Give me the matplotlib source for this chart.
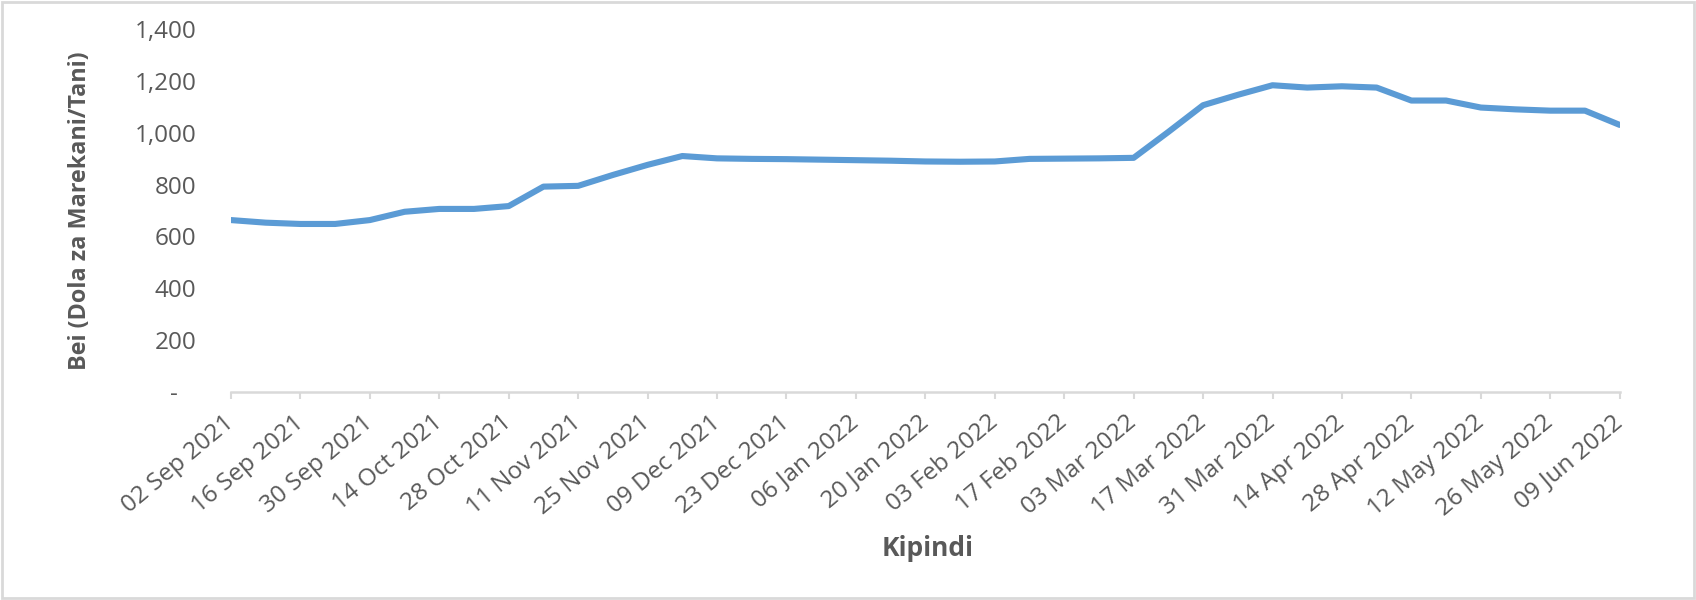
import pandas as pd
import matplotlib.pyplot as plt
import matplotlib.patches as patches

plt.rcParams['font.family'] = ['Open Sans', 'DejaVu Sans']

# weekly price, Dola za Marekani / Tani
weeks = pd.date_range('2021-09-02', periods=41, freq='7D')
prices = [663, 653, 648, 648, 663, 695, 706, 706, 717, 792,
          795, 837, 876, 910, 901, 899, 898, 896, 894, 892,
          889, 888, 889, 899, 900, 901, 903, 1003, 1106, 1146,
          1183, 1174, 1179, 1174, 1124, 1124, 1097, 1090, 1085, 1085,
          1030]
yticks = [0, 200, 400, 600, 800, 1000, 1200, 1400]
ytick_labels = ['-   ', '200', '400', '600', '800', '1,000', '1,200', '1,400']

grey = '#595959'
fig = plt.figure(figsize=(16.96, 6), dpi=100)
ax = fig.add_axes([0.1362, 0.3467, 0.8188, 0.605])

ax.plot(weeks, prices, color='#5B9BD5', lw=4.4, solid_capstyle='round', solid_joinstyle='round')

ax.set_xlim(weeks[0], weeks[-1])
ax.set_ylim(0, 1400)
ax.set_yticks(yticks, ytick_labels)
xt = weeks[::2]
ax.set_xticks(xt, [d.strftime('%d %b %Y') for d in xt], rotation=40, ha='right',
              va='center', rotation_mode='anchor')
ax.tick_params(axis='x', colors='#D9D9D9', length=5, width=1.5, pad=15, labelcolor=grey, labelsize=17.5)
ax.tick_params(axis='y', length=0, pad=25, labelcolor=grey, labelsize=17.5)

for s in ['top', 'right', 'left']:
    ax.spines[s].set_visible(False)
ax.spines['bottom'].set_color('#D9D9D9')
ax.spines['bottom'].set_linewidth(1.8)

ax.set_ylabel('Bei (Dola za Marekani/Tani)', fontsize=16.8, fontweight='bold', color=grey)
ax.yaxis.set_label_coords(-0.1, 0.5)
fig.text(0.547, 0.085, 'Kipindi', fontsize=19, fontweight='bold', color=grey, ha='center', va='center')

fig.patches.append(patches.Rectangle((0.001, 0.003), 0.998, 0.994, transform=fig.transFigure,
                                     fill=False, edgecolor='#D9D9D9', lw=2))

plt.savefig('out.png')
